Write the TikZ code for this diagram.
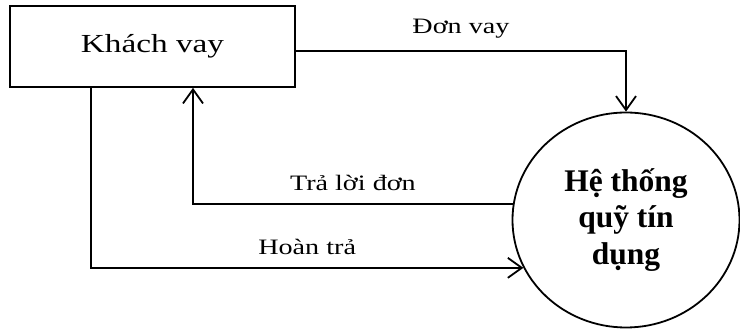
\documentclass[tikz,border=0pt]{standalone}
\usepackage{fontspec}
\setmainfont{Liberation Serif}
\newfontfamily\widerm[FakeStretch=1.28]{Liberation Serif}
\usetikzlibrary{arrows.meta,shapes.geometric}
\definecolor{ink}{HTML}{000000}
\tikzset{
  actor/.style ={draw=ink, line width=1.8pt,
                 minimum width=285pt, minimum height=81pt, inner sep=0pt,
                 font=\widerm\fontsize{26}{30}\selectfont},
  proc/.style  ={ellipse, draw=ink, line width=1.8pt,
                 minimum width=227pt, minimum height=215pt, inner sep=0pt,
                 align=center, font=\bfseries\fontsize{31.5}{36.5}\selectfont},
  arr/.style   ={-{Straight Barb[length=14pt,width=20pt]}, line width=1.8pt, draw=ink},
  flow/.style  ={font=\widerm\fontsize{22}{26}\selectfont, above=9pt},
}
\begin{document}
\begin{tikzpicture}[x=1pt,y=1pt]
  \useasboundingbox (0,0) rectangle (740,329);
  \node[actor] (khach) at (152.5,282.5) {Khách vay};
  \node[proc] (heth) at (626,109) {Hệ thống\\quỹ tín\\dụng};

  \draw[arr] ([yshift=-4.5pt]khach.east) -| node[flow,pos=0.25] {Đơn vay} (heth.north);
  \draw[arr] (heth.172) -| node[flow,pos=0.25] {Trả lời đơn} ([xshift=40.5pt]khach.south);
  \draw[arr] ([xshift=-61.5pt]khach.south) |- node[flow,pos=0.75] {Hoàn trả} (heth.205);
\end{tikzpicture}
\end{document}
